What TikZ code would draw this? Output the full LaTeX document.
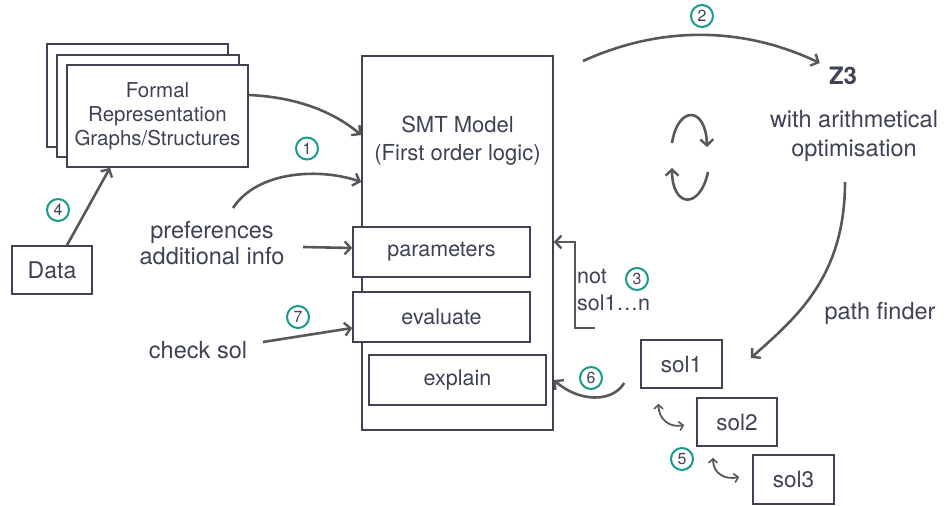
\documentclass[tikz,border=0pt]{standalone}
\usepackage{fontspec}
\setmainfont{TeX Gyre Heros}
\usetikzlibrary{arrows.meta,calc}
\definecolor{ink}{HTML}{3E4254}
\definecolor{wire}{HTML}{585858}
\definecolor{teal}{HTML}{1A9A8C}
\tikzset{
  box/.style={draw=ink,line width=1.6pt,fill=white,text=ink,inner sep=0pt,align=center},
  lbl/.style={text=ink,inner sep=2pt,align=center,font=\fontsize{23.5}{26}\selectfont},
  arr/.style={draw=wire,line width=2.6pt,-{Straight Barb[length=6pt,width=13pt,line width=2.4pt]}},
  twoway/.style={draw=wire,line width=1.8pt,{Straight Barb[length=4pt,width=9pt,line width=1.6pt]}-{Straight Barb[length=4pt,width=9pt,line width=1.6pt]}},
  badge/.style={circle,draw=teal,line width=2pt,minimum size=22pt,inner sep=0pt,text=ink,font=\fontsize{16}{16}\selectfont}
}
\begin{document}
\begin{tikzpicture}[x=1pt,y=-1pt]
\useasboundingbox[fill=white] (0,0) rectangle (946,506);

% stacked sheets behind the formal representation
\draw[ink,line width=1.6pt,fill=white] (47,44) rectangle (228,147);
\draw[ink,line width=1.6pt,fill=white] (57,55) rectangle (239,157);
\node[box,minimum width=181pt,minimum height=102pt,font=\fontsize{20.5}{24}\selectfont] (formal) at (157.5,116) {Formal\\Representation\\Graphs/Structures};

\node[box,minimum width=80pt,minimum height=48pt,font=\fontsize{23}{26}\selectfont] (data) at (52,270) {Data};

% SMT model with its inner parts
\node[box,minimum width=191pt,minimum height=374pt] (smt) at (457.5,243) {};
\node[lbl,font=\fontsize{22}{28}\selectfont] (smttext) at (457.5,141) {SMT Model\\(First order logic)};
\node[box,minimum width=177pt,minimum height=50pt,font=\fontsize{21.5}{24}\selectfont] (params) at (441.5,252) {parameters};
\node[box,minimum width=177pt,minimum height=50pt,font=\fontsize{21.5}{24}\selectfont] (eval) at (441.5,317) {evaluate};
\node[box,minimum width=177pt,minimum height=50pt,font=\fontsize{21.5}{24}\selectfont] (explain) at (457.5,380) {explain};

% solutions
\node[box,minimum width=81pt,minimum height=48pt,font=\fontsize{22.5}{24}\selectfont] (sol1) at (681.5,364) {sol1};
\node[box,minimum width=80pt,minimum height=48pt,font=\fontsize{22.5}{24}\selectfont] (sol2) at (737,422) {sol2};
\node[box,minimum width=81pt,minimum height=49pt,font=\fontsize{22.5}{24}\selectfont] (sol3) at (793.5,479.5) {sol3};

% free labels
\node[lbl,font=\bfseries\fontsize{24}{26}\selectfont] (z3) at (843,76) {Z3};
\node[lbl,font=\fontsize{23.5}{29}\selectfont] (opt) at (854,136) {with arithmetical\\optimisation};
\node[lbl] (path) at (880,313) {path finder};
\node[lbl,font=\fontsize{23.5}{26}\selectfont] (prefs) at (212,243) {preferences\\additional info};
\node[lbl] (check) at (198,350) {check sol};
\node[lbl,align=left,anchor=west,font=\fontsize{21.5}{27}\selectfont] (notsol) at (575,290) {not\\sol1\dots n};

% free ends of connectors
\coordinate (prefsup) at (233,208);
\coordinate (prefsout) at (303,247);
\coordinate (checkout) at (263,342);
\coordinate (toz3) at (583,61);
\coordinate (pathtop) at (845,182);
\coordinate (notstart) at (595,328);
\coordinate (cycAa) at (672,143);
\coordinate (cycAb) at (707,147);
\coordinate (cycBa) at (708,172);
\coordinate (cycBb) at (672,168);

% connectors
\draw[arr] ([yshift=21pt]formal.east) .. controls +(45,2) and +(-30,-25) .. ([yshift=108pt]smt.west);
\draw[arr] (prefsup) .. controls +(25,-38) and +(-40,-14) .. ([yshift=61pt]smt.west);
\draw[arr] (prefsout) -- ([yshift=4pt]params.west);
\draw[arr] (checkout) -- ([yshift=-11pt]eval.west);
\draw[arr] ([xshift=15pt]data.north) -- ([xshift=-47.5pt]formal.south);
\draw[arr] (toz3) .. controls +(77,-35) and +(-78,-37) .. ([xshift=-7pt,yshift=13pt]z3.west);
\draw[arr] (cycAa) .. controls (678,105) and (706,106) .. (cycAb);
\draw[arr] (cycBa) .. controls (700,210) and (672,208) .. (cycBb);
\draw[arr] (pathtop) .. controls +(0,95) and +(45,-40) .. ([xshift=28pt,yshift=6pt]sol1.east);
\draw[arr] (notstart) -- ++(-20,0) |- ([yshift=1pt]smt.east);
\draw[arr] ([xshift=-16pt,yshift=-19pt]sol1.west) .. controls +(-12,20) and +(25,22) .. (smt.east |- explain.east);
\draw[twoway] ([xshift=-23pt,yshift=-15pt]sol1.south) .. controls +(0,16) and +(-14,3) .. ([xshift=-12pt,yshift=-3pt]sol2.west);
\draw[twoway] ([xshift=-24pt,yshift=-11pt]sol2.south) .. controls +(0,16) and +(-14,3) .. ([xshift=-13pt,yshift=2.5pt]sol3.west);

% step numbers
\node[badge] (b1) at (307,148.5) {1};
\node[badge] (b2) at (702,16) {2};
\node[badge] (b3) at (637,279) {3};
\node[badge] (b4) at (58,210) {4};
\node[badge] (b5) at (682,459) {5};
\node[badge] (b6) at (591,378) {6};
\node[badge] (b7) at (298,317) {7};
\end{tikzpicture}
\end{document}
